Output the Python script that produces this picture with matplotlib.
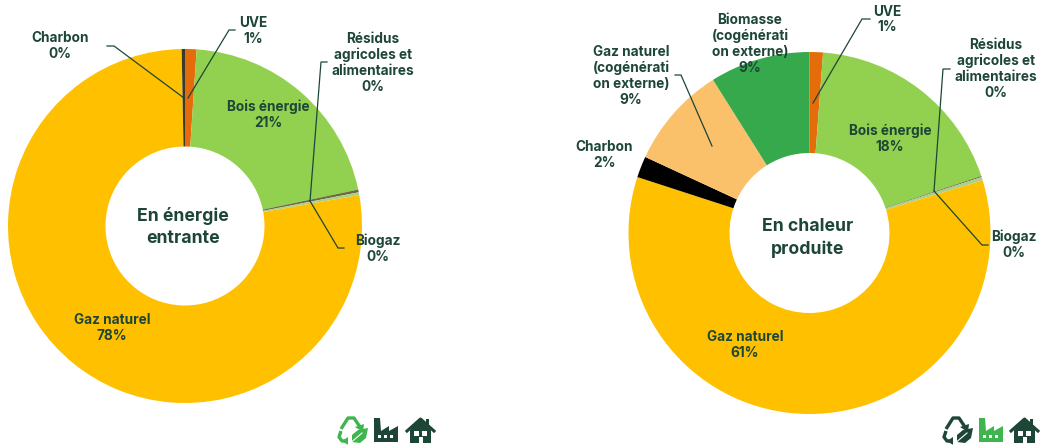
import matplotlib
matplotlib.use("Agg")
import matplotlib.pyplot as plt
from matplotlib.patches import Polygon, Rectangle

plt.rcParams['font.family'] = ['Inter', 'DejaVu Sans']

W, H = 1040, 446
DARK = '#1d4636'
LIGHT = '#3fb54f'

# clockwise from 12 o'clock
left_names = ['UVE', 'Bois énergie', 'Résidus agricoles et alimentaires', 'Biogaz', 'Gaz naturel', 'Charbon']
left_values = [1.05, 20.65, 0.25, 0.25, 77.5, 0.3]
left_colors = ['#e46c0a', '#92d050', '#6f6a3c', '#a9d18e', '#ffc000', '#3a3a2a']

right_names = ['UVE', 'Bois énergie', 'Résidus agricoles et alimentaires', 'Biogaz', 'Gaz naturel',
               'Charbon', 'Gaz naturel (cogénération externe)', 'Biomasse (cogénération externe)']
right_values = [1.2, 18.7, 0.1, 0.3, 59.7, 1.9, 9.15, 8.95]
right_colors = ['#e46c0a', '#92d050', '#6f6a3c', '#a9d18e', '#ffc000', '#000000', '#fac06a', '#36a94d']

fig = plt.figure(figsize=(W / 100, H / 100), dpi=100)


def donut(cx, cy, r_out, r_in, values, colors):
    ax = fig.add_axes([(cx - r_out) / W, 1 - (cy + r_out) / H, 2 * r_out / W, 2 * r_out / H])
    ax.pie(values, colors=colors, startangle=90, counterclock=False, radius=1,
           wedgeprops=dict(width=1 - r_in / r_out, linewidth=0))
    ax.set_xlim(-1, 1)
    ax.set_ylim(-1, 1)
    ax.axis('off')


donut(185, 226, 177, 79.5, left_values, left_colors)
donut(809.5, 233, 181, 80, right_values, right_colors)

# overlay in pixel coordinates for labels, leaders and icons
ov = fig.add_axes([0, 0, 1, 1], zorder=5)
ov.set_xlim(0, W)
ov.set_ylim(H, 0)
ov.axis('off')
ov.patch.set_alpha(0)


def label(x, y, s, size=9.8, spacing=1.17):
    ov.text(x, y, s, ha='center', va='center', fontsize=size, fontweight='bold',
            color=DARK, linespacing=spacing)


def leader(pts):
    ov.plot([p[0] for p in pts], [p[1] for p in pts], color=DARK, lw=0.9, solid_joinstyle='miter')


# left donut
label(60, 46, 'Charbon\n0%')
label(253, 31, 'UVE\n1%')
label(373, 63, 'Résidus\nagricoles et\nalimentaires\n0%')
label(268, 115, 'Bois énergie\n21%')
label(378, 249, 'Biogaz\n0%')
label(112, 328, 'Gaz naturel\n78%')
label(183, 227, 'En énergie\nentrante', size=12.7, spacing=1.38)
leader([(107, 46), (114, 46), (184, 98)])
leader([(235, 30), (229, 30), (188, 98)])
leader([(327, 62), (321, 62), (310, 201)])
leader([(310, 201), (338, 248), (344, 248)])

# right donut
label(887, 19.5, 'UVE\n1%')
label(996, 69, 'Résidus\nagricoles et\nalimentaires\n0%')
label(890, 139, 'Bois énergie\n18%')
label(1014, 245, 'Biogaz\n0%')
label(604, 155, 'Charbon\n2%')
label(631, 76, 'Gaz naturel\n(cogénérati\non externe)\n9%')
label(750, 44, 'Biomasse\n(cogénérati\non externe)\n9%')
label(745, 345, 'Gaz naturel\n61%')
label(808, 238, 'En chaleur\nproduite', size=12.7, spacing=1.38)
leader([(870, 19), (862, 19), (813, 103)])
leader([(950, 69), (943, 69), (934, 191)])
leader([(934, 191), (982, 245), (988, 245)])
leader([(675, 75), (681, 75), (712, 146)])


def recycle_icon(x, y, c1, c2):
    # three chasing arrows with a small leaf
    for pts in ([(x + 3, y + 13), (x + 10, y + 2), (x + 16, y + 2), (x + 22, y + 11)],
                [(x + 3, y + 15), (x + 1, y + 21), (x + 4, y + 25), (x + 10, y + 25)]):
        ov.plot([p[0] for p in pts], [p[1] for p in pts], color=c1, lw=2.4, solid_capstyle='butt')
    ov.add_patch(Polygon([(x + 17, y + 11), (x + 26, y + 8), (x + 25, y + 16)], color=c1, lw=0))
    ov.add_patch(Polygon([(x + 10, y + 21), (x + 10, y + 29), (x + 4, y + 25)], color=c1, lw=0))
    ov.add_patch(Polygon([(x + 14, y + 26), (x + 14, y + 19), (x + 20, y + 14), (x + 30, y + 12),
                          (x + 28, y + 22), (x + 22, y + 27)], color=c2, lw=0))
    ov.plot([x + 10, x + 24], [y + 29, y + 17], color='white', lw=0.8)


def factory_icon(x, y, c):
    ov.add_patch(Polygon([(x, y + 24), (x, y), (x + 6, y), (x + 7, y + 13), (x + 15, y + 8), (x + 15, y + 13),
                          (x + 24, y + 8), (x + 24, y + 24)], color=c, lw=0))
    for dx in (4, 10, 16):
        ov.add_patch(Rectangle((x + dx, y + 17), 3, 3, color='white', lw=0))


def house_icon(x, y, c):
    ov.add_patch(Polygon([(x + 4, y + 12), (x + 14.5, y + 2), (x + 25, y + 12), (x + 25, y + 25),
                          (x + 4, y + 25)], color=c, lw=0))
    ov.plot([x + 1, x + 14.5, x + 28], [y + 13, y + 1, y + 13], color=c, lw=2.2)
    ov.add_patch(Rectangle((x + 20, y + 1), 3, 6, color=c, lw=0))
    ov.add_patch(Rectangle((x + 8, y + 13), 5, 5, color='white', lw=0))
    ov.add_patch(Rectangle((x + 16, y + 13), 5, 5, color='white', lw=0))
    ov.add_patch(Rectangle((x + 12.5, y + 19), 4, 6, color='white', lw=0))


recycle_icon(338, 416, LIGHT, LIGHT)
factory_icon(374, 418, DARK)
house_icon(406, 418, DARK)
recycle_icon(943, 416, DARK, DARK)
factory_icon(979, 418, LIGHT)
house_icon(1010, 418, DARK)

fig.savefig('out.png', dpi=100)
